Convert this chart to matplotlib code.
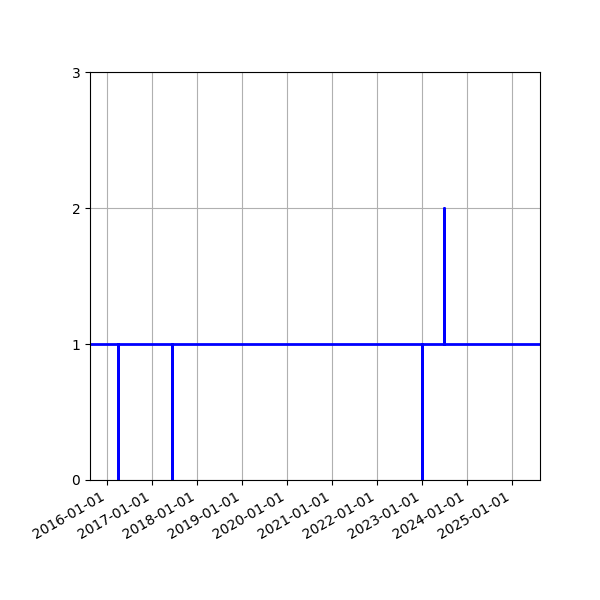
import matplotlib
matplotlib.use("Agg")
import matplotlib.pyplot as plt
import matplotlib.dates as mdates
import numpy as np

dates = np.array(["2015-08-15", "2016-03-27", "2016-03-28", "2017-06-12", "2017-06-13",
                  "2023-01-01", "2023-01-02", "2023-06-29", "2023-06-30", "2025-08-15"],
                 dtype="datetime64[D]")
values = [1, 0, 1, 0, 1, 0, 1, 2, 1, 1]
tick_years = list(range(2016, 2026))
y_ticks = [0, 1, 2, 3]

fig, ax = plt.subplots(figsize=(6, 6), dpi=100)
fig.subplots_adjust(left=0.15, right=0.9, bottom=0.2, top=0.88)
ax.plot(dates, values, drawstyle="steps-post", color="blue", linewidth=2)
ax.set_xlim(dates[0], dates[-1])
ax.set_ylim(0, 3)
ax.set_yticks(y_ticks)
ax.set_xticks([np.datetime64(f"{y}-01-01") for y in tick_years])
ax.xaxis.set_major_formatter(mdates.DateFormatter("%Y-%m-%d"))
for lbl in ax.get_xticklabels():
    lbl.set_rotation(30)
    lbl.set_ha("right")
ax.grid(True)
fig.savefig("out.png")
